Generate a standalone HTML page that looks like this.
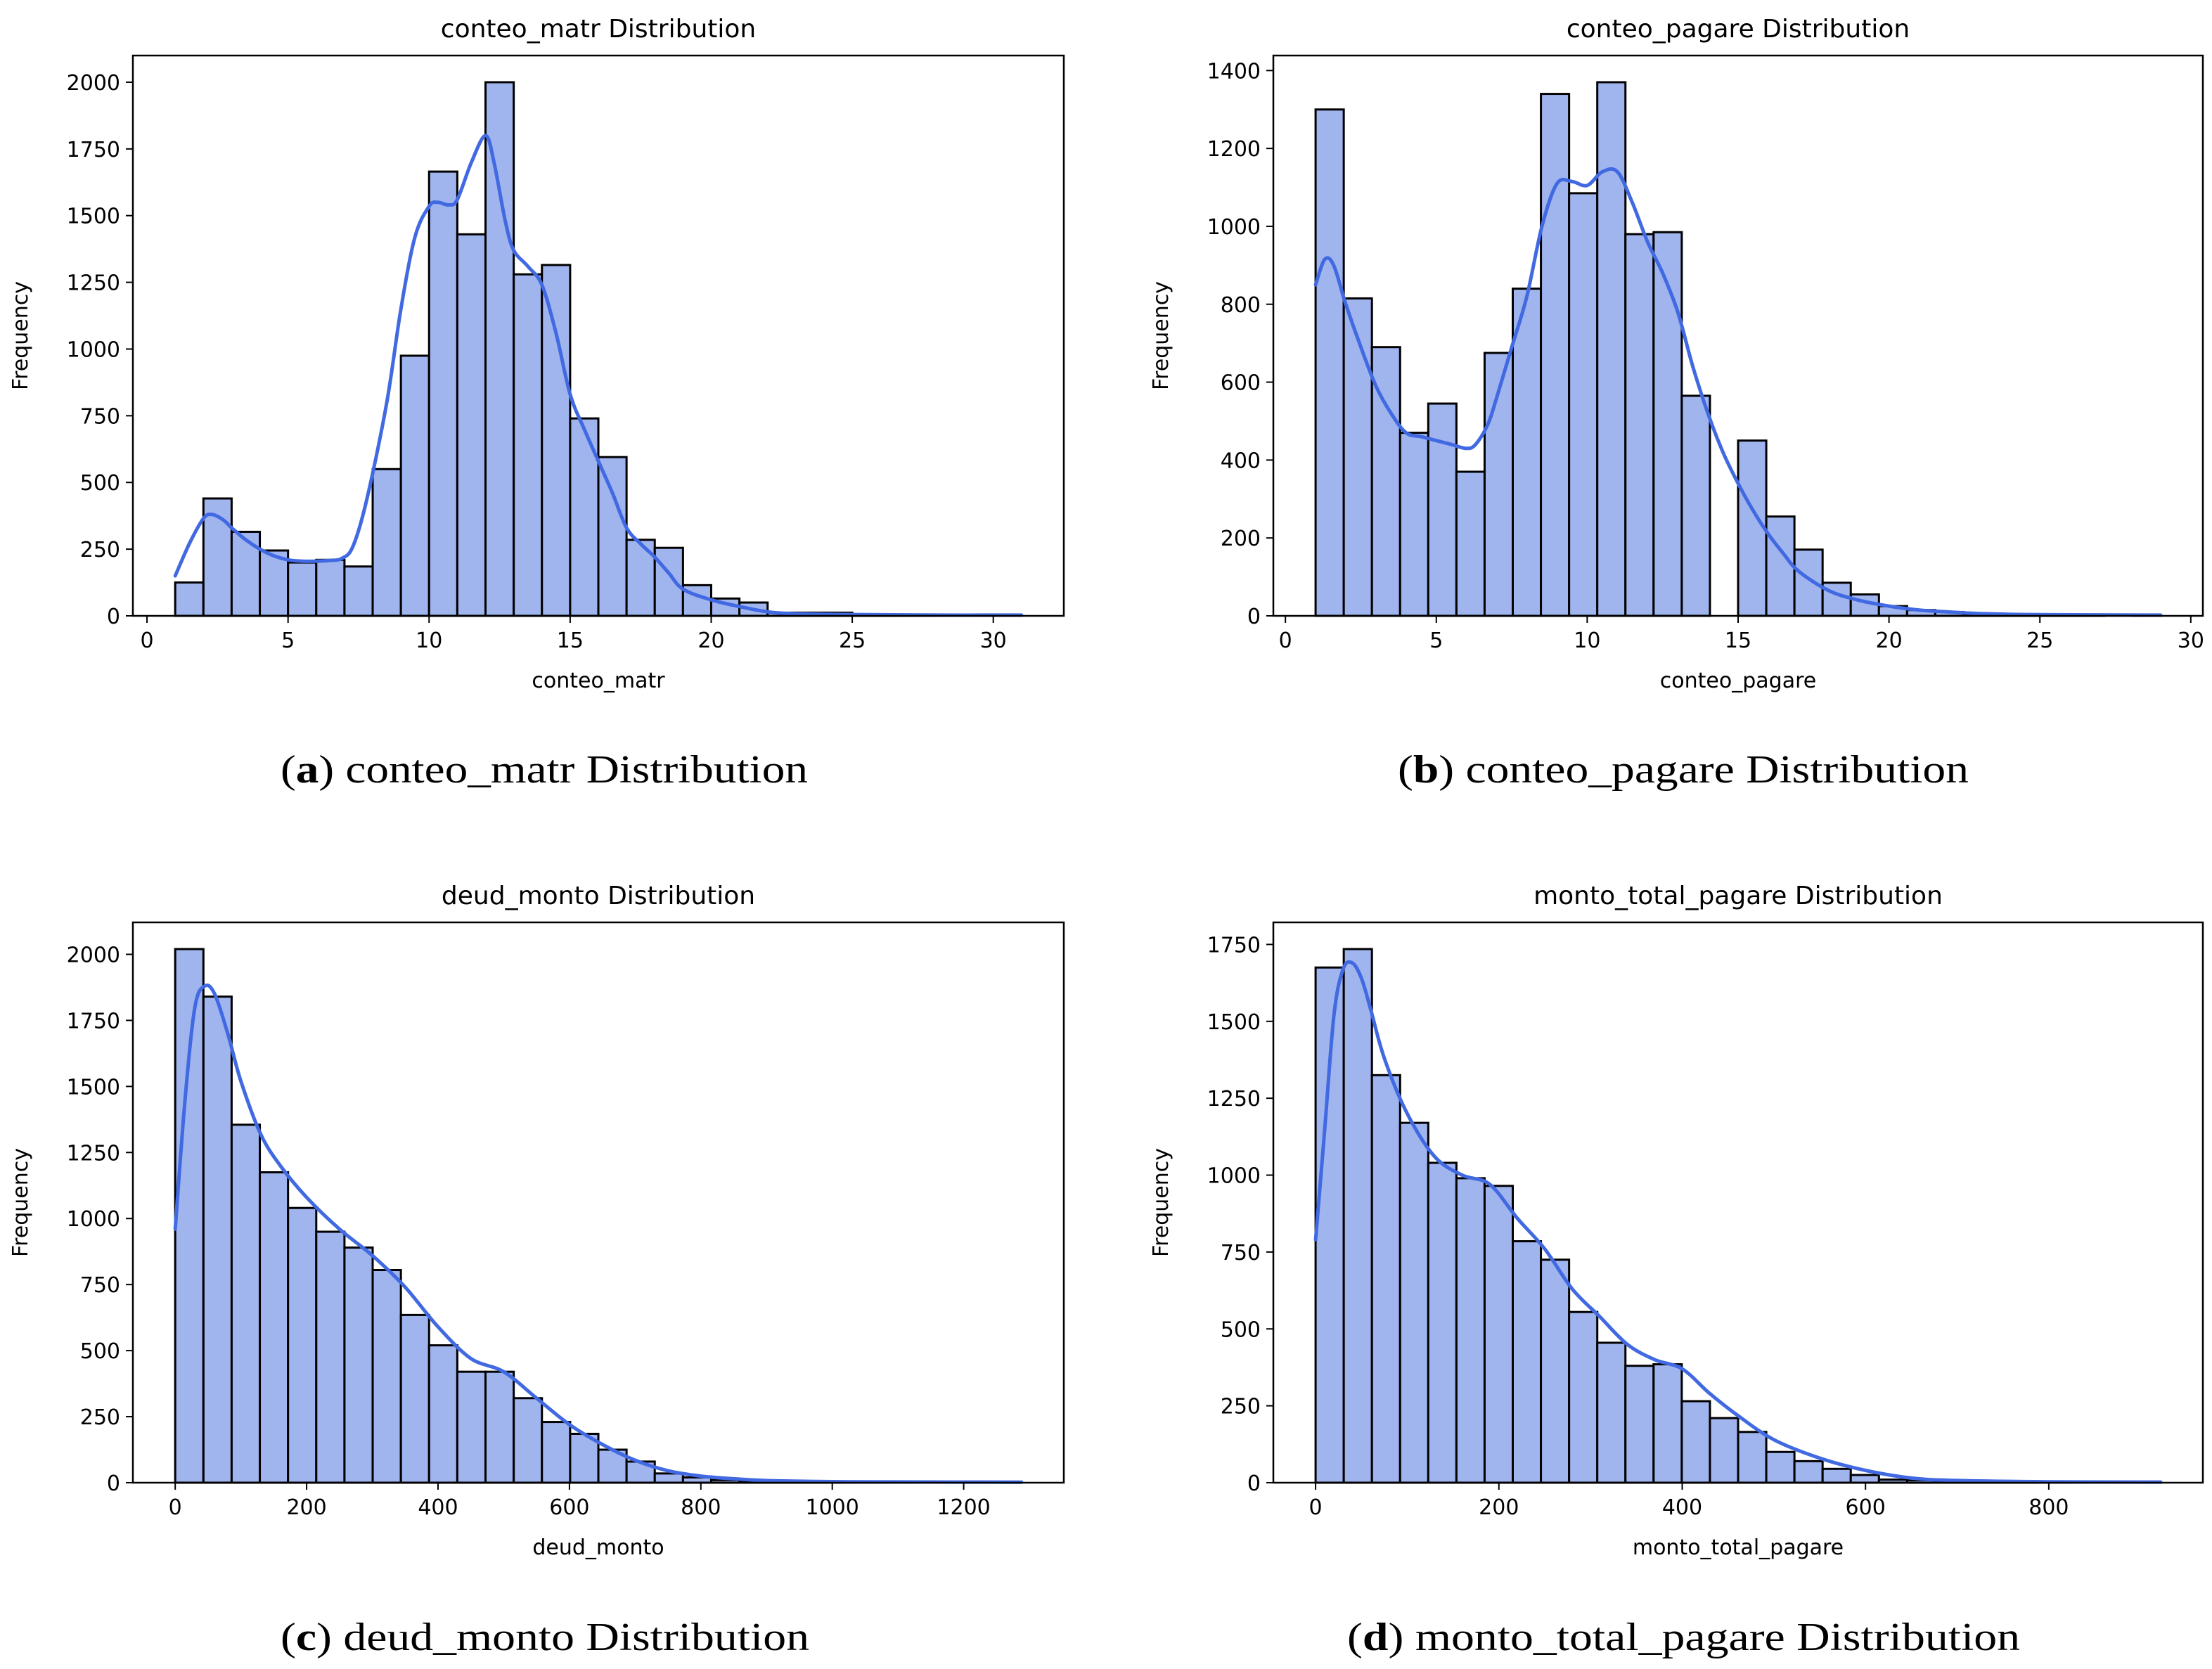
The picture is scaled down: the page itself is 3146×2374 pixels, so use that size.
<!DOCTYPE html>
<html><head><meta charset="utf-8"><style>
html,body{margin:0;padding:0;background:#fff}
svg{display:block}
</style></head><body>
<svg id="fig" width="3146" height="2374" viewBox="0 0 3146 2374" xmlns="http://www.w3.org/2000/svg"></svg>
<script>
// ---- Panel a: conteo_matr ----
const aCounts=[125,440,315,245,200,210,185,550,975,1665,1430,2000,1280,1315,740,595,285,255,115,65,50,12,12,12,3,2,2,1,1,2];
const aRange=[1,31];
const aKdeX=[1,1.5,2,2.3,2.7,3,3.5,4,4.5,5,5.5,6,6.5,6.9,7.3,7.8,8.5,9,9.5,10,10.3,10.7,11,11.5,12,12.3,12.7,13,13.5,14,14.5,15,15.5,16,16.5,17,17.5,18,18.5,19,20,21,22,23,25,28,31];
const aKdeY=[150,270,365,380,360,330,285,250,225,210,205,205,208,215,260,440,800,1150,1420,1535,1550,1540,1560,1700,1800,1700,1480,1370,1310,1240,1060,830,700,580,460,330,270,220,160,100,60,35,15,8,5,3,3];
const aXTicks=[0,5,10,15,20,25,30];
const aYTicks=[0,250,500,750,1000,1250,1500,1750,2000];
// ---- Panel b: conteo_pagare ----
const bCounts=[1300,815,690,470,545,370,675,840,1340,1085,1370,980,985,565,0,450,255,170,85,55,25,15,10,5,3,2,1,1,0,1];
const bRange=[1,29];
const bKdeX=[1,1.3,1.6,2,2.5,3,3.5,4,4.5,5,5.5,6,6.3,6.7,7,7.5,8,8.5,9,9.5,10,10.5,11,11.5,12,12.5,13,13.5,14,14.5,15,15.5,16,16.5,17,18,19,20,21,22,23,25,29];
const bKdeY=[850,915,900,800,690,590,520,470,460,450,440,430,440,490,560,690,820,1000,1110,1115,1105,1140,1140,1060,960,880,780,640,520,420,340,270,210,160,115,65,40,25,15,10,6,3,2];
const bXTicks=[0,5,10,15,20,25,30];
const bYTicks=[0,200,400,600,800,1000,1200,1400];
// ---- Panel c: deud_monto ----
const cCounts=[2020,1840,1355,1175,1040,950,890,805,635,520,420,420,320,230,185,125,80,35,20,10,8,5,3,2,2,1,1,1,1,1];
const cRange=[0,1288];
const cKdeX=[0,15,30,45,60,80,100,130,160,200,250,300,350,400,450,500,550,600,650,700,750,800,850,900,1000,1100,1288];
const cKdeY=[960,1450,1800,1880,1850,1700,1520,1320,1200,1080,960,860,740,590,470,420,320,220,145,85,45,25,15,8,4,3,2];
const cXTicks=[0,200,400,600,800,1000,1200];
const cYTicks=[0,250,500,750,1000,1250,1500,1750,2000];
// ---- Panel d: monto_total_pagare ----
const dCounts=[1675,1735,1325,1170,1040,990,965,785,725,555,455,380,385,265,210,165,100,70,45,25,10,8,5,3,2,2,1,1,1,1];
const dRange=[0,922];
const dKdeX=[0,10,20,30,40,50,60,75,100,130,160,190,220,250,280,310,340,370,400,430,460,500,550,600,650,700,800,922];
const dKdeY=[790,1150,1520,1670,1690,1640,1540,1380,1200,1060,1000,970,860,760,630,540,450,400,370,290,220,140,80,40,15,7,3,2];
const dXTicks=[0,200,400,600,800];
const dYTicks=[0,250,500,750,1000,1250,1500,1750];

const NS="http://www.w3.org/2000/svg";
const svg=document.getElementById('fig');
function mk(tag,attrs,parent){const e=document.createElementNS(NS,tag);for(const k in attrs)e.setAttribute(k,attrs[k]);(parent||svg).appendChild(e);return e;}

function smoothPath(pts){
  let d="M"+pts[0][0].toFixed(1)+","+pts[0][1].toFixed(1);
  for(let i=0;i<pts.length-1;i++){
    const p0=pts[Math.max(0,i-1)],p1=pts[i],p2=pts[i+1],p3=pts[Math.min(pts.length-1,i+2)];
    const c1=[p1[0]+(p2[0]-p0[0])/6,p1[1]+(p2[1]-p0[1])/6];
    const c2=[p2[0]-(p3[0]-p1[0])/6,p2[1]-(p3[1]-p1[1])/6];
    d+="C"+c1[0].toFixed(1)+","+c1[1].toFixed(1)+" "+c2[0].toFixed(1)+","+c2[1].toFixed(1)+" "+p2[0].toFixed(1)+","+p2[1].toFixed(1);
  }
  return d;
}

function panel(id,box,counts,range,kx,ky,xt,yt,title,xlabel,caption,capBold,capBox){
  const g=mk('g',{});
  
  
  const [L,T,R,B]=box;
  const span=range[1]-range[0];
  const x0=range[0]-0.05*span,x1=range[1]+0.05*span;
  const ymax=Math.max(...counts)*1.05;
  const sx=v=>L+(v-x0)/(x1-x0)*(R-L);
  const sy=v=>B-v/ymax*(B-T);
  const n=counts.length,w=span/n;
  counts.forEach((c,i)=>{
    if(c<=0)return;
    const r=mk('rect',{x:sx(range[0]+i*w),y:sy(c),width:sx(range[0]+(i+1)*w)-sx(range[0]+i*w),height:B-sy(c),fill:'#a0b4ee',stroke:'#000','stroke-width':3},g);
    
    
  });
  const kde=mk('path',{d:smoothPath(kx.map((v,i)=>[sx(v),sy(ky[i])])),fill:'none',stroke:'#4169e1','stroke-width':5,'stroke-linecap':'round','stroke-linejoin':'round'},g);
  
  
  const fr=mk('rect',{x:L,y:T,width:R-L,height:B-T,fill:'none',stroke:'#000','stroke-width':2.5},g);
  
  
  xt.forEach(v=>{
    const x=sx(v);
    mk('line',{x1:x,x2:x,y1:B,y2:B+10,stroke:'#000','stroke-width':2},g);
    const t=mk('text',{x:x,y:B+45,'text-anchor':'middle','font-size':30,'font-family':'DejaVu Sans, sans-serif'},g);
    t.textContent=v;
    
    
  });
  yt.forEach(v=>{
    const y=sy(v);
    mk('line',{x1:L-10,x2:L,y1:y,y2:y,stroke:'#000','stroke-width':2},g);
    const t=mk('text',{x:L-18,y:y+11,'text-anchor':'end','font-size':30,'font-family':'DejaVu Sans, sans-serif'},g);
    t.textContent=v;
    
    
  });
  const tt=mk('text',{x:(L+R)/2,y:T-26,'text-anchor':'middle','font-size':36,'font-family':'DejaVu Sans, sans-serif'},g);
  tt.textContent=title;
  
  
  const xl=mk('text',{x:(L+R)/2,y:B+102,'text-anchor':'middle','font-size':30,'font-family':'DejaVu Sans, sans-serif'},g);
  xl.textContent=xlabel;
  
  
  const yx=L-150,yy=(T+B)/2;
  const yl=mk('text',{x:yx,y:yy,'text-anchor':'middle','font-size':30,'font-family':'DejaVu Sans, sans-serif',transform:'rotate(-90 '+yx+' '+yy+')'},g);
  yl.textContent='Frequency';
  
  
  const cp=mk('text',{x:capBox[0],y:capBox[1],'font-size':56,'font-family':'Liberation Serif, serif',textLength:capBox[2],lengthAdjust:'spacingAndGlyphs'},g);
  
  
  cp.appendChild(document.createTextNode('('));
  const bs=mk('tspan',{'font-weight':'bold'},cp);bs.textContent=capBold;
  cp.appendChild(document.createTextNode(') '+caption));
}
panel('a',[189,79,1513,876],aCounts,aRange,aKdeX,aKdeY,aXTicks,aYTicks,'conteo_matr Distribution','conteo_matr','conteo_matr Distribution','a',[399,1113,750]);
panel('b',[1811,79,3133,876],bCounts,bRange,bKdeX,bKdeY,bXTicks,bYTicks,'conteo_pagare Distribution','conteo_pagare','conteo_pagare Distribution','b',[1988,1113,812]);
panel('c',[189,1312,1513,2109],cCounts,cRange,cKdeX,cKdeY,cXTicks,cYTicks,'deud_monto Distribution','deud_monto','deud_monto Distribution','c',[399,2347,752]);
panel('d',[1811,1312,3133,2109],dCounts,dRange,dKdeX,dKdeY,dXTicks,dYTicks,'monto_total_pagare Distribution','monto_total_pagare','monto_total_pagare Distribution','d',[1916,2347,957]);
</script>
</body></html>
